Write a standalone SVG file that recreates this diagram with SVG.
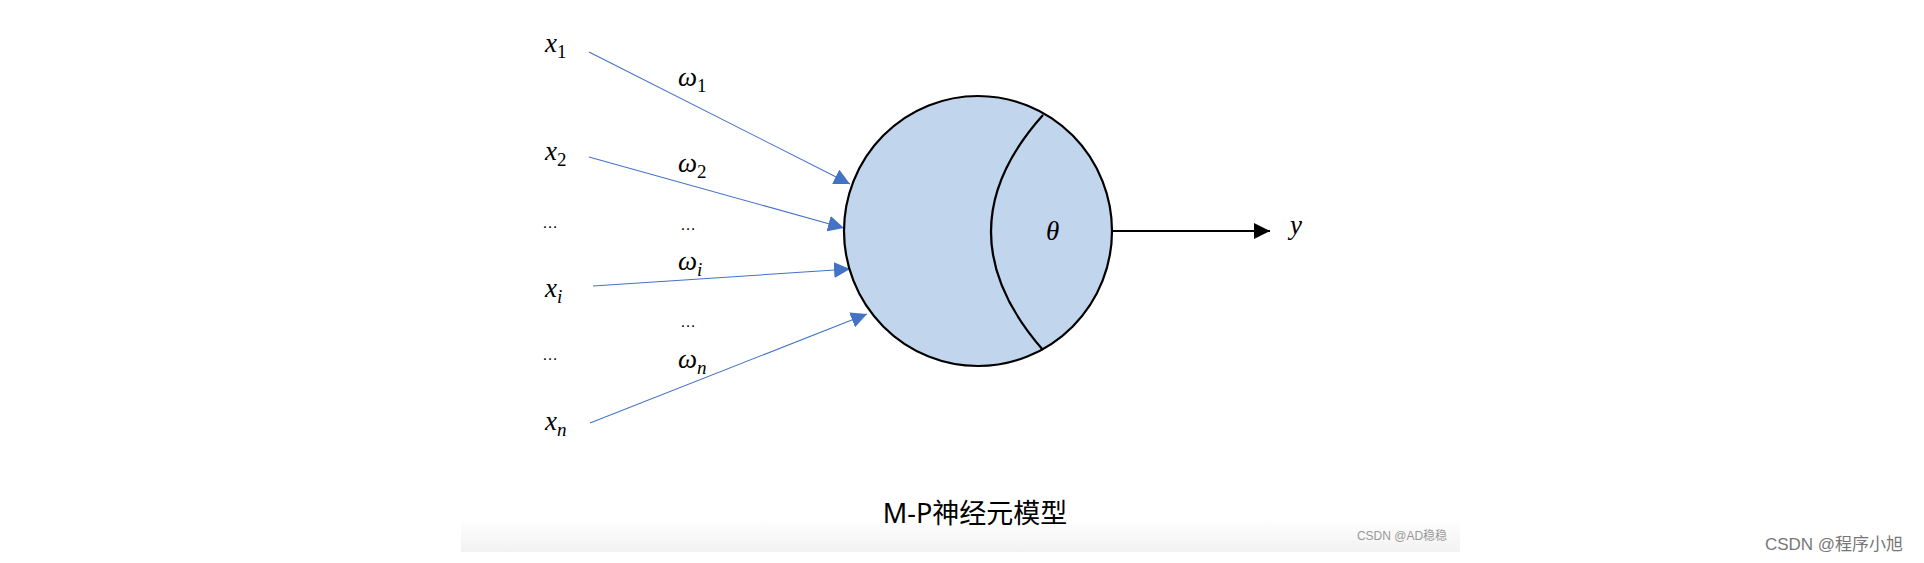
<svg xmlns="http://www.w3.org/2000/svg" width="1924" height="563" viewBox="0 0 1924 563">
<style>
.m{font-family:"Liberation Serif","DejaVu Serif",serif;font-style:italic;font-size:27px;fill:#000}
.s{font-size:19px}
.u{font-style:normal}
.d{font-family:"Liberation Sans",sans-serif;font-size:16px;fill:#000}
.in{stroke:#4472c4;stroke-width:1.1;fill:none;marker-end:url(#ab)}
</style>
<defs>
<marker id="ab" viewBox="0 0 10 10" refX="10" refY="5" markerWidth="16" markerHeight="16" markerUnits="userSpaceOnUse" orient="auto"><path d="M0,0L10,5L0,10z" fill="#4472c4"/></marker>
<marker id="ak" viewBox="0 0 10 10" refX="10" refY="5" markerWidth="16" markerHeight="16" markerUnits="userSpaceOnUse" orient="auto"><path d="M0,0L10,5L0,10z" fill="#000"/></marker>
<linearGradient id="g" x1="0" y1="0" x2="0" y2="1"><stop offset="0" stop-color="#fff"/><stop offset="1" stop-color="#f2f2f2"/></linearGradient>
</defs>
<rect x="461" y="518" width="999" height="34" fill="url(#g)"/>
<g id="inputs">
<text class="m" x="545" y="52">x<tspan class="s u" dy="6">1</tspan></text>
<text class="m" x="545" y="160">x<tspan class="s u" dy="6">2</tspan></text>
<text class="d" x="542" y="228">…</text>
<text class="m" x="545" y="297">x<tspan class="s" dy="6">i</tspan></text>
<text class="d" x="542" y="360">…</text>
<text class="m" x="545" y="430">x<tspan class="s" dy="6">n</tspan></text>
</g>
<g id="weights">
<text class="m" x="678" y="86">ω<tspan class="s u" dy="6">1</tspan></text>
<text class="m" x="678" y="172">ω<tspan class="s u" dy="6">2</tspan></text>
<text class="d" x="680" y="230">…</text>
<text class="m" x="678" y="270">ω<tspan class="s" dy="6">i</tspan></text>
<text class="d" x="680" y="327">…</text>
<text class="m" x="678" y="368">ω<tspan class="s" dy="6">n</tspan></text>
</g>
<g id="connectors">
<line class="in" x1="589" y1="52" x2="850" y2="184"/>
<line class="in" x1="589" y1="157" x2="844" y2="228"/>
<line class="in" x1="593" y1="286" x2="850" y2="269"/>
<line class="in" x1="590" y1="423" x2="867" y2="314"/>
<line x1="1112" y1="231" x2="1270" y2="231" stroke="#000" stroke-width="2" marker-end="url(#ak)"/>
</g>
<g id="neuron">
<ellipse cx="978" cy="231" rx="134" ry="135" fill="#c1d5ec" stroke="#000" stroke-width="2.2"/>
<path d="M1043,115 Q939,231 1043,350" fill="none" stroke="#000" stroke-width="2.2"/>
<text class="m" x="1046" y="240">θ</text>
</g>
<g id="output"><text class="m" x="1290" y="234">y</text></g>
<text x="975" y="523" text-anchor="middle" font-family="'Noto Sans','Noto Sans CJK SC',sans-serif" font-size="27" fill="#000">M-P神经元模型</text>
<text x="1402" y="540" text-anchor="middle" font-family="'Liberation Sans','Noto Sans CJK SC',sans-serif" font-size="12" fill="#999">CSDN @AD稳稳</text>
<text x="1834" y="550" text-anchor="middle" font-family="'Liberation Sans','Noto Sans CJK SC',sans-serif" font-size="17" fill="#777">CSDN @程序小旭</text>
</svg>
